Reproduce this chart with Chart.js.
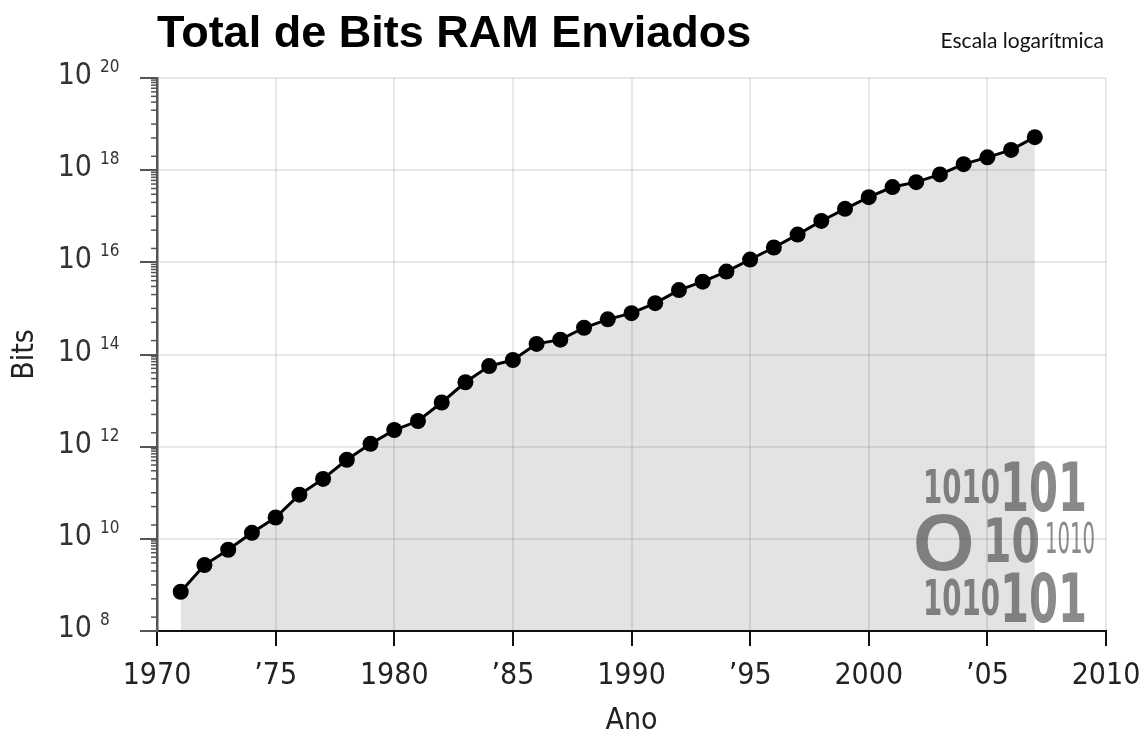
<!DOCTYPE html>
<html>
<head>
<meta charset="utf-8">
<title>Total de Bits RAM Enviados</title>
<script src="https://cdn.jsdelivr.net/npm/chart.js@4.4.1/dist/chart.umd.min.js"></script>
<style>
  html, body { margin: 0; padding: 0; background: #fff; }
  #wrap { width: 1146px; height: 738px; }
</style>
</head>
<body>
<div id="wrap"><canvas id="bitsChart" width="1146" height="738"></canvas></div>
<script>
// Anos com dados
const anos = [
  1971, 1972, 1973, 1974, 1975, 1976, 1977, 1978, 1979, 1980,
  1981, 1982, 1983, 1984, 1985, 1986, 1987, 1988, 1989, 1990,
  1991, 1992, 1993, 1994, 1995, 1996, 1997, 1998, 1999, 2000,
  2001, 2002, 2003, 2004, 2005, 2006, 2007
];

// Total de bits de RAM enviados em cada ano
const totalBits = [
  7.1e8, 2.7e9, 5.8e9, 1.35e10, 2.9e10, 9.1e10, 2.0e11, 5.2e11, 1.15e12, 2.3e12,
  3.6e12, 9.1e12, 2.5e13, 5.6e13, 7.6e13, 1.7e14, 2.1e14, 3.8e14, 5.8e14, 7.9e14,
  1.3e15, 2.5e15, 3.8e15, 6.3e15, 1.15e16, 2.1e16, 4.0e16, 7.9e16, 1.45e17, 2.6e17,
  4.3e17, 5.5e17, 8.1e17, 1.35e18, 1.9e18, 2.75e18, 5.2e18
];

// Rótulos do eixo x (de 5 em 5 anos)
const rotulosX = ['1970', '\u201975', '1980', '\u201985', '1990', '\u201995', '2000', '\u201905', '2010'];

// Expoentes das marcas principais do eixo y
const expoentesY = [8, 10, 12, 14, 16, 18, 20];

// Marcas menores abaixo de cada potência principal
const fracoesMenores = [0.9, 0.8, 0.7, 0.6, 0.5, 0.4, 0.3, 0.2, 0.1, 0.05, 0.02];

const NARROW = "'Liberation Sans Narrow', 'DejaVu Sans Condensed', sans-serif";

Chart.defaults.font.family = NARROW;
Chart.defaults.color = '#222';

// Desenha título, rótulos 10^n, marcas menores e o motivo binário
const extras = {
  id: 'extras',
  afterDatasetsDraw(chart) {
    const ctx = chart.ctx;
    const { right, bottom } = chart.chartArea;

    // texto binário decorativo no canto inferior direito
    const chunk = (txt, dx, dy, cap, w, weight, family) => {
      ctx.font = weight + ' ' + Math.round(cap / 0.72) + 'px ' + family;
      ctx.fillText(txt, right + dx, bottom + dy, w);
    };
    ctx.save();
    ctx.fillStyle = 'rgba(60,60,60,0.6)';
    ctx.textAlign = 'left';
    ctx.textBaseline = 'alphabetic';
    chunk('1010', -183, -128, 34, 77, 'bold', NARROW);
    chunk('101', -106, -120, 49, 87, 'bold', NARROW);
    chunk('O', -193, -61, 57, 64, 'bold', "'Liberation Sans', Arial, sans-serif");
    chunk('10', -123, -69, 44, 57, 'bold', NARROW);
    chunk('1010', -61, -78, 30, 50, 'normal', NARROW);
    chunk('1010', -183, -16, 35, 77, 'bold', NARROW);
    chunk('101', -106, -9, 49, 87, 'bold', NARROW);
    ctx.restore();
  },
  afterDraw(chart) {
    const ctx = chart.ctx;
    const y = chart.scales.y;
    const left = chart.chartArea.left;

    ctx.save();
    // título
    ctx.fillStyle = '#000';
    ctx.font = "bold 45px 'Liberation Sans', Arial, sans-serif";
    ctx.textAlign = 'left';
    ctx.textBaseline = 'alphabetic';
    ctx.fillText('Total de Bits RAM Enviados', left, 47);

    // nota da escala
    ctx.fillStyle = '#111';
    ctx.font = "21px Lato, 'Open Sans', sans-serif";
    ctx.textAlign = 'right';
    ctx.fillText('Escala logarítmica', 1104, 48);

    // marcas menores do eixo y
    ctx.strokeStyle = '#555';
    ctx.lineWidth = 1.5;
    expoentesY.forEach(e => {
      fracoesMenores.forEach(f => {
        const v = Math.pow(10, e) * f;
        if (v < y.min) return;
        const py = y.getPixelForValue(v);
        ctx.beginPath();
        ctx.moveTo(left - 6, py);
        ctx.lineTo(left, py);
        ctx.stroke();
      });
    });

    // rótulos 10^n
    ctx.fillStyle = '#333';
    expoentesY.forEach(e => {
      const py = y.getPixelForValue(Math.pow(10, e));
      ctx.font = '30px ' + NARROW;
      ctx.textAlign = 'right';
      ctx.fillText('10', left - 65, py + 6);
      ctx.font = '17px ' + NARROW;
      ctx.textAlign = 'left';
      ctx.fillText(String(e), left - 57, py - 6);
    });
    ctx.restore();
  }
};

const ctx = document.getElementById('bitsChart').getContext('2d');
new Chart(ctx, {
  type: 'line',
  data: {
    datasets: [{
      data: anos.map((a, i) => ({ x: a, y: totalBits[i] })),
      borderColor: '#000',
      borderWidth: 3,
      pointRadius: 8,
      pointBackgroundColor: '#000',
      pointBorderWidth: 0,
      tension: 0,
      fill: 'start',
      backgroundColor: 'rgba(0,0,0,0.11)'
    }]
  },
  options: {
    responsive: false,
    animation: false,
    devicePixelRatio: 1,
    layout: { padding: { top: 78, right: 40, left: 0, bottom: 0 } },
    plugins: {
      legend: { display: false },
      tooltip: { enabled: false }
    },
    scales: {
      x: {
        type: 'linear',
        min: 1970,
        max: 2010,
        afterFit: (scale) => {
          scale.height = 107;
          scale.paddingLeft = 0;
          scale.paddingRight = 0;
        },
        ticks: {
          stepSize: 5,
          padding: 12,
          maxRotation: 0,
          font: { size: 30 },
          color: '#222',
          callback: (v) => rotulosX[(v - 1970) / 5]
        },
        grid: {
          color: 'rgba(0,0,0,0.09)',
          lineWidth: 2,
          tickColor: '#111',
          tickWidth: 2,
          tickLength: 15
        },
        border: { color: '#111', width: 2 },
        title: {
          display: true,
          text: 'Ano',
          font: { size: 30, lineHeight: 1 },
          color: '#222',
          padding: { top: 0, bottom: 2 }
        }
      },
      y: {
        type: 'logarithmic',
        min: 1e8,
        max: 1e20,
        afterFit: (scale) => {
          scale.width = 157;
          scale.paddingTop = 0;
          scale.paddingBottom = 0;
        },
        afterBuildTicks: (scale) => {
          scale.ticks = expoentesY.map(e => ({ value: Math.pow(10, e) }));
        },
        ticks: { display: false },
        grid: {
          color: 'rgba(0,0,0,0.09)',
          lineWidth: 2,
          tickColor: '#555',
          tickWidth: 2,
          tickLength: 17
        },
        border: { color: '#555', width: 2.5 },
        title: {
          display: true,
          text: 'Bits',
          font: { size: 30, lineHeight: 1 },
          color: '#222',
          padding: { top: 10, bottom: 0 }
        }
      }
    }
  },
  plugins: [extras]
});
</script>
</body>
</html>
